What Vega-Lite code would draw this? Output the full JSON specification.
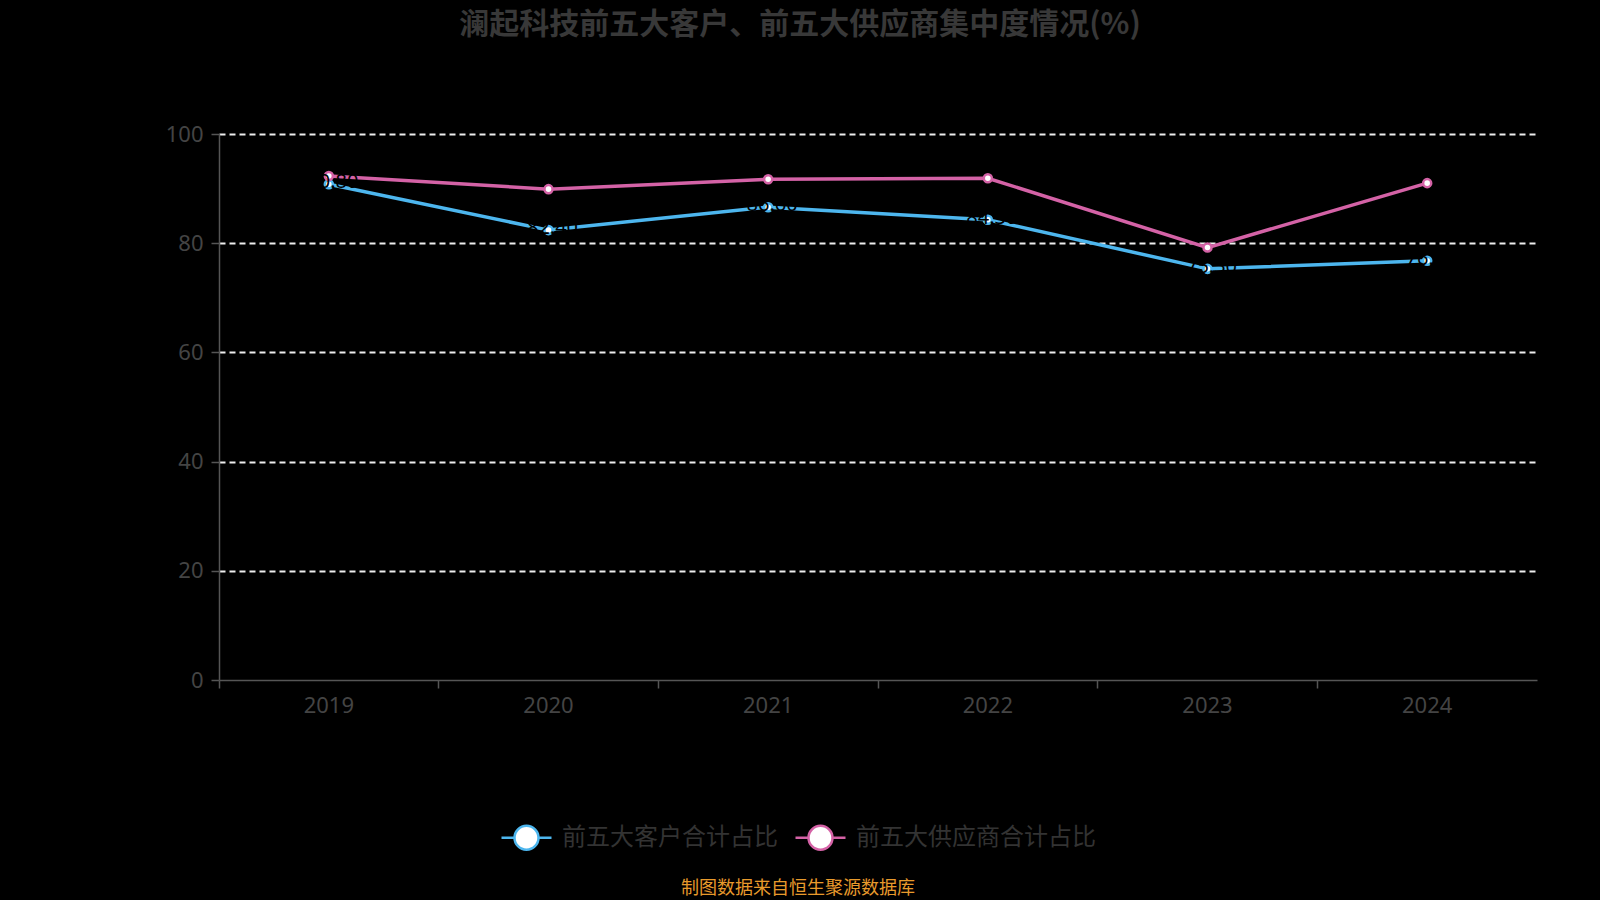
{
  "$schema": "https://vega.github.io/schema/vega-lite/v6.json",
  "autosize": "none",
  "width": 1318,
  "height": 546,
  "padding": {"left": 219, "top": 134, "right": 63, "bottom": 220},
  "background": "#000000",
  "view": {"stroke": null},
  "title": {
    "text": "澜起科技前五大客户、前五大供应商集中度情况(%)",
    "font": "Noto Sans CJK SC",
    "fontSize": 30,
    "fontWeight": "bold",
    "color": "#383838",
    "anchor": "middle",
    "dx": -78,
    "offset": 83
  },
  "data": {
    "values": [
      {"year": "2019", "series": "前五大客户合计占比", "value": 90.8},
      {"year": "2020", "series": "前五大客户合计占比", "value": 82.4},
      {"year": "2021", "series": "前五大客户合计占比", "value": 86.6},
      {"year": "2022", "series": "前五大客户合计占比", "value": 84.3},
      {"year": "2023", "series": "前五大客户合计占比", "value": 75.3},
      {"year": "2024", "series": "前五大客户合计占比", "value": 76.8},
      {"year": "2019", "series": "前五大供应商合计占比", "value": 92.3},
      {"year": "2020", "series": "前五大供应商合计占比", "value": 89.9},
      {"year": "2021", "series": "前五大供应商合计占比", "value": 91.7},
      {"year": "2022", "series": "前五大供应商合计占比", "value": 91.9},
      {"year": "2023", "series": "前五大供应商合计占比", "value": 79.2},
      {"year": "2024", "series": "前五大供应商合计占比", "value": 91.0}
    ]
  },
  "encoding": {
    "x": {
      "field": "year",
      "type": "ordinal",
      "bandPosition": 0.5,
      "scale": {"type": "band", "paddingInner": 0, "paddingOuter": 0},
      "title": null,
      "axis": {
        "bandPosition": 0,
        "labelAngle": 0,
        "labelFont": "Noto Sans",
        "labelFontSize": 22,
        "labelColor": "#444444",
        "labelPadding": 7,
        "domainColor": "#555555",
        "domainWidth": 1.5,
        "tickColor": "#555555",
        "tickWidth": 1.5,
        "tickSize": 8,
        "grid": false,
        "zindex": 1
      }
    },
    "y": {
      "field": "value",
      "type": "quantitative",
      "scale": {"domain": [0, 100]},
      "title": null,
      "axis": {
        "values": [0, 20, 40, 60, 80, 100],
        "labelFont": "Noto Sans",
        "labelFontSize": 22,
        "labelColor": "#444444",
        "labelPadding": 8,
        "domainColor": "#555555",
        "domainWidth": 1.5,
        "tickColor": "#555555",
        "tickWidth": 1.5,
        "tickSize": 8,
        "grid": true,
        "gridColor": "#eeeeee",
        "gridWidth": 1.8,
        "gridDash": [6, 4],
        "gridOpacity": {"condition": {"test": "datum.value === 0", "value": 0}, "value": 1}
      }
    }
  },
  "layer": [
    {
      "mark": {"type": "line", "strokeWidth": 3.5},
      "encoding": {
        "stroke": {
          "field": "series",
          "type": "nominal",
          "sort": ["前五大客户合计占比", "前五大供应商合计占比"],
          "scale": {
            "domain": ["前五大客户合计占比", "前五大供应商合计占比"],
            "range": ["#4db6ee", "#d462a6"]
          },
          "legend": {
            "orient": "none",
            "legendX": 281,
            "legendY": 677,
            "direction": "horizontal",
            "title": "制图数据来自恒生聚源数据库",
            "titleOrient": "bottom",
            "titleAnchor": "middle",
            "titleFont": "Noto Sans CJK SC",
            "titleFontSize": 18,
            "titleFontWeight": "normal",
            "titleColor": "#e89a2c",
            "titleLimit": 0,
            "titlePadding": 25,
            "labelFont": "Noto Sans CJK SC",
            "labelFontSize": 24,
            "labelColor": "#333333",
            "labelLimit": 0,
            "labelOffset": 9,
            "columnPadding": 12,
            "symbolType": "M -1 0 L -0.48 0 M 0.48 0 L 1 0 M 0.48 0 A 0.48 0.48 0 1 1 -0.48 0 A 0.48 0.48 0 1 1 0.48 0 Z",
            "symbolSize": 2500,
            "symbolFillColor": "#ffffff",
            "symbolStrokeWidth": 2.5,
            "symbolOpacity": 1
          }
        }
      }
    },
    {
      "mark": {"type": "point", "filled": false, "fill": "#ffffff", "fillOpacity": 1, "opacity": 1, "size": 65, "strokeWidth": 2.5},
      "encoding": {
        "stroke": {"field": "series", "type": "nominal", "legend": null}
      }
    },
    {
      "transform": [{"filter": "datum.series === '前五大客户合计占比'"}],
      "mark": {"type": "text", "fill": "#000000", "font": "Noto Sans", "fontSize": 20, "baseline": "middle", "dy": -2, "dx": 4},
      "encoding": {
        "text": {"field": "value", "type": "quantitative", "format": ".2f"}
      }
    }
  ]
}
